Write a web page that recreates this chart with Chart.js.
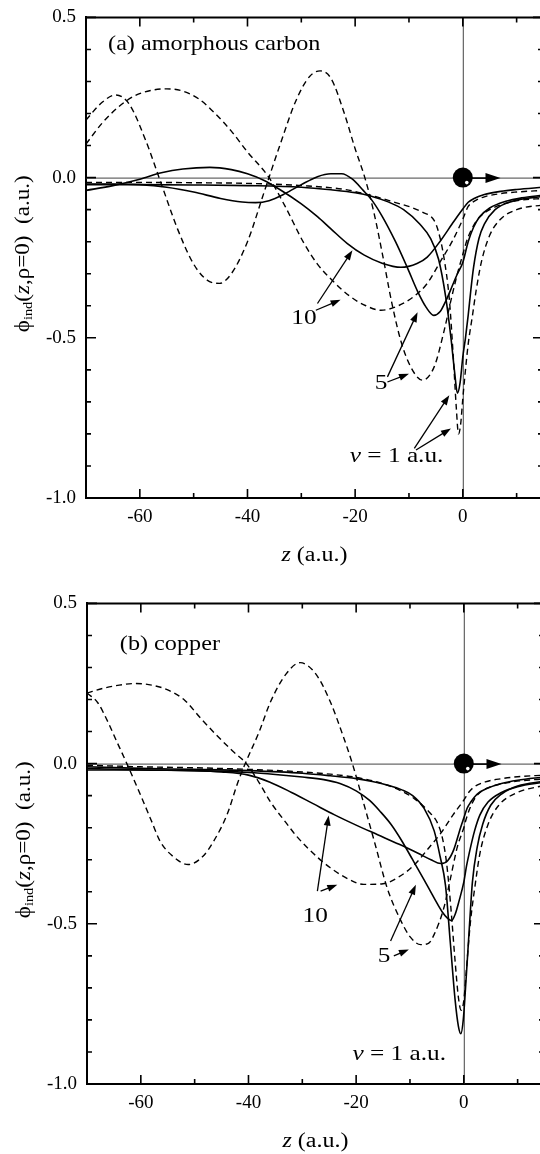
<!DOCTYPE html>
<html>
<head>
<meta charset="utf-8">
<script src="https://cdn.jsdelivr.net/npm/chart.js@4.4.1/dist/chart.umd.min.js"></script>
<style>
html, body { margin: 0; padding: 0; background: #fff; width: 540px; height: 1154px; overflow: hidden; }
canvas { position: absolute; }
#chartA { top: -4px; left: 0; }
#chartB { top: 582px; left: 1px; }
</style>
</head>
<body>
<canvas id="chartA" width="548" height="572"></canvas>
<canvas id="chartB" width="548" height="572"></canvas>
<script>
// axis ticks
const xTicks = [-60, -40, -20, 0];
const xMinor = [-50, -30, -10, 10];
const yTicks = [0.5, 0, -0.5, -1];
const yMinor = [0.4, 0.3, 0.2, 0.1, -0.1, -0.2, -0.3, -0.4, -0.6, -0.7, -0.8, -0.9];

// (a) amorphous carbon : [z, phi]
const carbonSolid1 = [[-70,-0.022],[-60,-0.022],[-50,-0.023],[-40,-0.025],[-30,-0.03],[-24.5,-0.038],[-20,-0.047],[-17,-0.058],[-14,-0.075],[-11,-0.1],[-8,-0.145],[-6,-0.19],[-4.5,-0.255],[-3.2,-0.37],[-2.2,-0.5],[-1.5,-0.61],[-1,-0.673],[-0.5,-0.64],[0,-0.56],[0.5,-0.5],[1,-0.43],[1.5,-0.35],[2,-0.28],[3,-0.19],[4,-0.145],[6,-0.1],[9,-0.075],[14.9,-0.058]];
const carbonDash1 = [[-70,-0.015],[-60,-0.015],[-50,-0.016],[-40,-0.018],[-30,-0.025],[-22,-0.037],[-16.5,-0.058],[-12.5,-0.078],[-9.7,-0.092],[-7.5,-0.108],[-5.3,-0.134],[-4.5,-0.17],[-3.5,-0.25],[-2.5,-0.38],[-1.8,-0.55],[-1.2,-0.72],[-0.8,-0.8],[-0.4,-0.77],[0,-0.69],[0.5,-0.6],[1,-0.52],[1.8,-0.43],[2.5,-0.35],[3.5,-0.26],[5,-0.18],[7,-0.13],[10,-0.1],[14.9,-0.085]];
const carbonSolid5 = [[-70,-0.02],[-65,-0.02],[-60,-0.022],[-55,-0.03],[-50,-0.045],[-45,-0.065],[-41,-0.076],[-38.5,-0.078],[-36,-0.072],[-33,-0.05],[-30,-0.022],[-27,0.003],[-24.5,0.012],[-22.5,0.012],[-20.5,-0.005],[-18.5,-0.04],[-17,-0.068],[-15,-0.12],[-12.5,-0.2],[-10.2,-0.285],[-8.4,-0.355],[-6.8,-0.405],[-5.4,-0.43],[-4.2,-0.418],[-3.1,-0.383],[-2,-0.34],[-1,-0.3],[0,-0.265],[1,-0.2],[2,-0.155],[3,-0.125],[5,-0.095],[8,-0.074],[11,-0.063],[14.9,-0.055]];
const carbonDash5 = [[-70,0.18],[-67,0.235],[-64.5,0.258],[-62,0.23],[-59,0.12],[-56,-0.02],[-53,-0.16],[-50,-0.27],[-47.5,-0.32],[-45.2,-0.33],[-43,-0.3],[-40,-0.2],[-37,-0.05],[-34,0.1],[-31,0.24],[-28.5,0.315],[-26.5,0.333],[-24.5,0.31],[-22,0.2],[-20,0.09],[-18.2,0.0],[-16.5,-0.11],[-14.8,-0.25],[-13.2,-0.39],[-11.5,-0.51],[-9.7,-0.59],[-7.5,-0.632],[-5.3,-0.59],[-3.5,-0.48],[-2.2,-0.383],[-1,-0.3],[0,-0.24],[0.5,-0.21],[1,-0.185],[2,-0.15],[3,-0.125],[5,-0.1],[8,-0.08],[11,-0.07],[14.9,-0.065]];
const carbonSolid10 = [[-70,-0.04],[-65,-0.025],[-60,-0.005],[-56,0.015],[-52,0.027],[-47,0.032],[-43,0.025],[-40,0.012],[-37,-0.008],[-34,-0.037],[-30,-0.082],[-27,-0.122],[-24.5,-0.16],[-21.5,-0.205],[-18.3,-0.242],[-15,-0.267],[-11.5,-0.28],[-8.5,-0.268],[-6.6,-0.248],[-4.1,-0.196],[-2,-0.145],[0,-0.098],[1,-0.077],[2,-0.066],[4,-0.053],[7,-0.043],[10,-0.037],[14.9,-0.03]];
const carbonDash10 = [[-70,0.105],[-67,0.17],[-64,0.22],[-61,0.255],[-58,0.272],[-55,0.277],[-52,0.27],[-49,0.245],[-46,0.2],[-43,0.145],[-40,0.08],[-36,0.0],[-33,-0.09],[-29.5,-0.205],[-27,-0.27],[-24,-0.325],[-21,-0.37],[-18,-0.4],[-15.2,-0.414],[-12,-0.4],[-9,-0.37],[-6.6,-0.33],[-4.1,-0.26],[-2,-0.2],[-0.4,-0.145],[0,-0.13],[1,-0.09],[2,-0.075],[4,-0.06],[7,-0.05],[10,-0.045],[14.9,-0.04]];

// (b) copper : [z, phi]
const copperSolid1 = [[-70,-0.01],[-60,-0.015],[-50,-0.018],[-40,-0.022],[-30,-0.03],[-24.8,-0.038],[-20,-0.047],[-17,-0.056],[-14,-0.068],[-11.5,-0.082],[-9.5,-0.1],[-7.4,-0.139],[-5.5,-0.21],[-4.4,-0.29],[-3.4,-0.38],[-2.5,-0.56],[-1.6,-0.74],[-1,-0.82],[-0.55,-0.843],[-0.1,-0.8],[0.4,-0.68],[1,-0.52],[1.6,-0.37],[2.5,-0.26],[3.5,-0.19],[5,-0.13],[7,-0.095],[10,-0.07],[14.9,-0.055]];
const copperDash1 = [[-70,-0.005],[-60,-0.01],[-50,-0.013],[-40,-0.018],[-30,-0.026],[-24.8,-0.033],[-20,-0.043],[-15,-0.063],[-12.3,-0.08],[-9.3,-0.108],[-6.5,-0.15],[-4.9,-0.185],[-4,-0.23],[-3.2,-0.31],[-2.4,-0.45],[-1.6,-0.62],[-1,-0.73],[-0.5,-0.77],[0,-0.74],[0.5,-0.64],[1.2,-0.5],[2.1,-0.38],[3,-0.28],[4.5,-0.19],[6.5,-0.13],[10,-0.09],[14.9,-0.068]];
const copperSolid5 = [[-70,-0.015],[-60,-0.02],[-50,-0.022],[-40,-0.028],[-35,-0.034],[-30,-0.042],[-26,-0.05],[-23,-0.062],[-20,-0.085],[-17.5,-0.115],[-15.5,-0.15],[-13.5,-0.19],[-11.7,-0.236],[-9.5,-0.3],[-7.4,-0.362],[-5.5,-0.42],[-4,-0.463],[-3,-0.483],[-2.3,-0.49],[-1.6,-0.47],[-0.9,-0.43],[0,-0.37],[0.5,-0.32],[1,-0.28],[2,-0.21],[3,-0.16],[4.5,-0.12],[7,-0.09],[10,-0.072],[14.9,-0.058]];
const copperDash5 = [[-70,0.22],[-68,0.19],[-66.4,0.14],[-64.5,0.07],[-62.6,0.0],[-60,-0.1],[-58,-0.18],[-56.4,-0.243],[-54,-0.29],[-51.2,-0.315],[-48.5,-0.29],[-46.5,-0.243],[-44,-0.16],[-42,-0.06],[-40.6,0.0],[-38,0.1],[-35.9,0.193],[-33,0.28],[-30.4,0.315],[-27.5,0.28],[-24.8,0.193],[-22.5,0.09],[-20.7,0.0],[-18.5,-0.13],[-16.5,-0.25],[-14.2,-0.39],[-11.7,-0.49],[-10,-0.54],[-8,-0.565],[-6.5,-0.56],[-5.5,-0.533],[-3.7,-0.45],[-2.5,-0.36],[-1.2,-0.26],[0,-0.2],[0.5,-0.17],[1,-0.145],[2,-0.11],[3,-0.09],[5,-0.072],[8,-0.06],[11,-0.053],[14.9,-0.048]];
const copperSolid10 = [[-70,-0.02],[-60,-0.02],[-50,-0.022],[-45,-0.026],[-40,-0.036],[-36,-0.058],[-32,-0.09],[-28,-0.125],[-24,-0.16],[-20,-0.192],[-16,-0.222],[-12,-0.252],[-8.5,-0.28],[-6.1,-0.3],[-4.3,-0.312],[-3,-0.303],[-1.9,-0.27],[-0.6,-0.2],[0,-0.17],[0.6,-0.14],[1.3,-0.12],[2.5,-0.095],[4.4,-0.077],[7,-0.062],[10,-0.052],[14.9,-0.042]];
const copperDash10 = [[-70,0.22],[-67,0.235],[-64,0.245],[-61,0.25],[-58,0.245],[-55,0.23],[-52,0.2],[-48.8,0.14],[-46,0.09],[-43,0.04],[-40.4,0.0],[-38,-0.06],[-35.9,-0.12],[-33,-0.185],[-31,-0.228],[-27,-0.295],[-24.8,-0.325],[-21.5,-0.36],[-18.6,-0.377],[-15,-0.375],[-12,-0.353],[-9.3,-0.318],[-6.1,-0.255],[-4.3,-0.218],[-2,-0.16],[0,-0.114],[1,-0.088],[2,-0.072],[4,-0.057],[7,-0.047],[10,-0.041],[14.9,-0.036]];

const serif = '"Liberation Serif", "Times New Roman", serif';
const R = n => n + 'px ' + serif;
const I = n => 'italic ' + n + 'px ' + serif;

// labels and arrows, placed in data units
const notesA = {
  title: {at: [-65.9, 0.417], align: 'left', parts: [['(a) amorphous carbon', R(22)]]},
  texts: [
    {at: [-29.5, -0.44], parts: [['10', R(22)]]},
    {at: [-15.2, -0.642], parts: [['5', R(22)]]},
    {at: [-12.3, -0.871], parts: [['v', I(22)], [' = 1 a.u.', R(22)]]}
  ],
  arrows: [[-27.0,-0.393,-20.5,-0.227], [-27.3,-0.414,-22.7,-0.381], [-14.0,-0.622,-8.4,-0.42], [-14.0,-0.638,-10.0,-0.612], [-9.0,-0.845,-2.5,-0.679], [-8.7,-0.85,-2.2,-0.783]]
};
const notesB = {
  title: {at: [-63.9, 0.374], align: 'left', parts: [['(b) copper', R(22)]]},
  texts: [
    {at: [-27.6, -0.476], parts: [['10', R(22)]]},
    {at: [-14.8, -0.6], parts: [['5', R(22)]]},
    {at: [-12.0, -0.906], parts: [['v', I(22)], [' = 1 a.u.', R(22)]]}
  ],
  arrows: [[-27.2,-0.398,-25.1,-0.162], [-26.6,-0.398,-23.5,-0.378], [-13.6,-0.554,-8.9,-0.378], [-13.0,-0.6,-10.2,-0.58]]
};

function richText(ctx, parts, x, y, align, sx) {
  let w = 0;
  const ws = parts.map(p => { ctx.font = p[1]; const m = ctx.measureText(p[0]).width; w += m; return m; });
  ctx.save();
  ctx.translate(x, y);
  ctx.scale(sx, 1);
  ctx.textBaseline = 'middle';
  ctx.textAlign = 'left';
  let cx = align === 'left' ? 0 : -w / 2;
  parts.forEach((p, i) => { ctx.font = p[1]; ctx.fillText(p[0], cx, p[2] || 0); cx += ws[i]; });
  ctx.restore();
}

function arrow(ctx, x1, y1, x2, y2) {
  const a = Math.atan2(y2 - y1, x2 - x1), hl = 10, hw = 3.5;
  ctx.beginPath(); ctx.moveTo(x1, y1); ctx.lineTo(x2 - hl * 0.6 * Math.cos(a), y2 - hl * 0.6 * Math.sin(a)); ctx.stroke();
  ctx.beginPath();
  ctx.moveTo(x2, y2);
  ctx.lineTo(x2 - hl * Math.cos(a) + hw * Math.sin(a), y2 - hl * Math.sin(a) - hw * Math.cos(a));
  ctx.lineTo(x2 - hl * Math.cos(a) - hw * Math.sin(a), y2 - hl * Math.sin(a) + hw * Math.cos(a));
  ctx.closePath(); ctx.fill();
}

function panelPlugin(notes) {
  return {
    id: 'panel',
    beforeDatasetsDraw(chart) {
      const {ctx, chartArea: a, scales: {x, y}} = chart;
      ctx.save();
      ctx.strokeStyle = '#444'; ctx.lineWidth = 1;
      ctx.beginPath();
      ctx.moveTo(a.left, y.getPixelForValue(0) + 0.5); ctx.lineTo(a.right, y.getPixelForValue(0) + 0.5);
      ctx.moveTo(x.getPixelForValue(0) + 0.5, a.top); ctx.lineTo(x.getPixelForValue(0) + 0.5, a.bottom);
      ctx.stroke();
      ctx.restore();
    },
    afterDatasetsDraw(chart) {
      const {ctx, chartArea: a, scales: {x, y}} = chart;
      ctx.save();
      ctx.fillStyle = '#000'; ctx.strokeStyle = '#000';
      // particle and its direction
      const x0 = x.getPixelForValue(0), y0 = y.getPixelForValue(0);
      ctx.lineWidth = 1.6;
      ctx.beginPath(); ctx.moveTo(x0, y0 + 0.5); ctx.lineTo(x.getPixelForValue(5), y0 + 0.5); ctx.stroke();
      const xe = x.getPixelForValue(7);
      ctx.beginPath(); ctx.moveTo(xe, y0 + 0.5); ctx.lineTo(xe - 15, y0 - 4.5); ctx.lineTo(xe - 15, y0 + 5.5); ctx.closePath(); ctx.fill();
      ctx.beginPath(); ctx.arc(x0, y0, 10, 0, Math.PI * 2); ctx.fill();
      ctx.fillStyle = '#fff';
      ctx.beginPath(); ctx.arc(x0 + 4, y0 + 5, 1.8, 0, Math.PI * 2); ctx.fill();
      ctx.fillStyle = '#000';
      // labels and arrows
      ctx.lineWidth = 1.3;
      notes.arrows.forEach(r => arrow(ctx, x.getPixelForValue(r[0]), y.getPixelForValue(r[1]), x.getPixelForValue(r[2]), y.getPixelForValue(r[3])));
      notes.texts.forEach(t => richText(ctx, t.parts, x.getPixelForValue(t.at[0]), y.getPixelForValue(t.at[1]), 'center', 1.15));
      const tt = notes.title;
      richText(ctx, tt.parts, x.getPixelForValue(tt.at[0]), y.getPixelForValue(tt.at[1]), tt.align, 1.1);
      ctx.restore();
    },
    afterDraw(chart) {
      const {ctx, chartArea: a, scales: {x, y}} = chart;
      ctx.save();
      ctx.strokeStyle = '#000'; ctx.fillStyle = '#000';
      // frame
      ctx.lineWidth = 2;
      ctx.beginPath();
      ctx.moveTo(a.left, a.top); ctx.lineTo(a.right, a.top); ctx.lineTo(a.right, a.bottom);
      ctx.stroke();
      // inward ticks on all four sides
      ctx.lineWidth = 1.6;
      ctx.beginPath();
      const tx = (v, len) => { const p = x.getPixelForValue(v); ctx.moveTo(p, a.bottom); ctx.lineTo(p, a.bottom - len); ctx.moveTo(p, a.top); ctx.lineTo(p, a.top + len); };
      const ty = (v, len) => { const p = y.getPixelForValue(v); ctx.moveTo(a.left, p); ctx.lineTo(a.left + len, p); ctx.moveTo(a.right, p); ctx.lineTo(a.right - len, p); };
      xTicks.forEach(v => tx(v, 9)); xMinor.forEach(v => tx(v, 5));
      yTicks.forEach(v => ty(v, 10)); yMinor.forEach(v => ty(v, 5));
      ctx.stroke();
      // axis titles
      const cx = (a.left + a.right) / 2;
      richText(ctx, [['z', I(20)], [' (a.u.)', R(20)]], cx, a.bottom + 58, 'center', 1.2);
      ctx.translate(23, (a.top + a.bottom) / 2 - 4);
      ctx.rotate(-Math.PI / 2);
      richText(ctx, [['ϕ', R(21)], ['ind', R(13), 6], ['(', R(21)], ['z', I(21)], [',ρ=0)  (a.u.)', R(21)]], 0, 0, 'center', 1.1);
      ctx.restore();
    }
  };
}

function makePanel(id, series, notes) {
  const sets = series.map(s => ({
    data: s.pts.map(p => ({x: p[0], y: p[1]})),
    borderColor: '#000',
    borderWidth: s.dashed ? 1.4 : 1.6,
    borderDash: s.dashed ? [6, 4] : [],
    pointRadius: 0,
    cubicInterpolationMode: 'monotone',
    fill: false
  }));
  const tickFont = {family: serif, size: 19};
  return new Chart(document.getElementById(id), {
    type: 'line',
    data: {datasets: sets},
    options: {
      responsive: false,
      animation: false,
      devicePixelRatio: 1,
      parsing: false,
      layout: {padding: {top: 12, right: 5, left: 0, bottom: 0}},
      plugins: {legend: {display: false}, tooltip: {enabled: false}},
      scales: {
        x: {
          type: 'linear', min: -70, max: 14.9,
          afterFit: s => { s.height = 70; },
          afterBuildTicks: s => { s.ticks = xTicks.map(v => ({value: v})); },
          grid: {display: false, drawTicks: false, tickLength: 0},
          border: {display: true, color: '#000', width: 2},
          ticks: {padding: 8, color: '#000', font: tickFont, maxRotation: 0, autoSkip: false, callback: v => String(v)}
        },
        y: {
          type: 'linear', min: -1, max: 0.5,
          afterFit: s => { s.width = 86; },
          afterBuildTicks: s => { s.ticks = yTicks.map(v => ({value: v})); },
          grid: {display: false, drawTicks: false, tickLength: 0},
          border: {display: true, color: '#000', width: 2},
          ticks: {padding: 10, color: '#000', font: tickFont, autoSkip: false, callback: v => v.toFixed(1)}
        }
      }
    },
    plugins: [panelPlugin(notes)]
  });
}

makePanel('chartA', [
  {pts: carbonSolid1}, {pts: carbonDash1, dashed: true},
  {pts: carbonSolid5}, {pts: carbonDash5, dashed: true},
  {pts: carbonSolid10}, {pts: carbonDash10, dashed: true}
], notesA);

makePanel('chartB', [
  {pts: copperSolid1}, {pts: copperDash1, dashed: true},
  {pts: copperSolid5}, {pts: copperDash5, dashed: true},
  {pts: copperSolid10}, {pts: copperDash10, dashed: true}
], notesB);
</script>
</body>
</html>
